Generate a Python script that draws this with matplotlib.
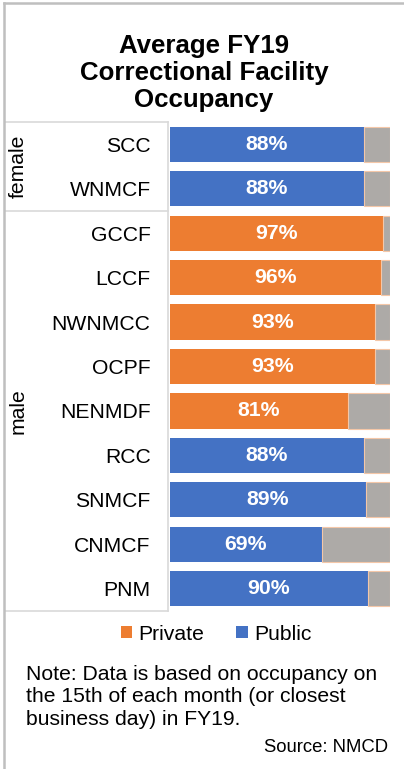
import matplotlib
matplotlib.use("Agg")
import matplotlib.pyplot as plt
from matplotlib import transforms
from matplotlib.lines import Line2D
from matplotlib.patches import Patch

plt.rcParams['font.family'] = ['Liberation Sans', 'DejaVu Sans']

facilities = ["SCC", "WNMCF", "GCCF", "LCCF", "NWNMCC", "OCPF",
              "NENMDF", "RCC", "SNMCF", "CNMCF", "PNM"]
occupancy = [88, 88, 97, 96, 93, 93, 81, 88, 89, 69, 90]
operator = ["Public", "Public", "Private", "Private", "Private", "Private",
            "Private", "Public", "Public", "Public", "Public"]
groups = ["female", "male"]
group_sizes = [2, 9]

colors = {"Private": "#ED7D31", "Public": "#4472C4"}
rest_color = "#ADAAA7"
grid_color = "#D9D9D9"
fs = 15.2

W, H = 404, 769
fig = plt.figure(figsize=(W / 100, H / 100), dpi=100)

def fx(px):
    return px / W

def fy(py):
    return 1 - py / H

ax_left, ax_right, ax_top, ax_bot = 170, 390, 122, 611
ax = fig.add_axes([fx(ax_left), fy(ax_bot), fx(ax_right - ax_left),
                   (ax_bot - ax_top) / H])

ypos = list(range(len(facilities)))
bar_h = 0.79
for y, v, op in zip(ypos, occupancy, operator):
    ax.barh(y, v, height=bar_h, color=colors[op], edgecolor="none")
    ax.barh(y, 100 - v, left=v, height=bar_h, color=rest_color,
            edgecolor="#F4C7A8", linewidth=0.8)
    ax.text(v / 2, y, f"{v}%", ha="center", va="center", color="white",
            fontsize=15.3, fontweight="bold")

ax.set_xlim(0, 100)
ax.set_ylim(len(facilities) - 0.5, -0.5)
for s in ["top", "right", "bottom", "left"]:
    ax.spines[s].set_visible(False)
ax.set_xticks([])
ax.set_yticks(ypos)
ax.set_yticklabels(facilities)
ax.tick_params(axis="y", length=0, pad=14, labelsize=fs)

# multi-level category frame
blend = transforms.blended_transform_factory(fig.transFigure, ax.transData)
bounds = [-0.5]
acc = 0
for n in group_sizes:
    acc += n
    bounds.append(acc - 0.5)
for b in bounds:
    fig.add_artist(Line2D([fx(5), fx(168)], [b, b], transform=blend,
                          color=grid_color, linewidth=1.2))
fig.add_artist(Line2D([fx(168), fx(168)], [bounds[0], bounds[-1]],
                      transform=blend, color=grid_color, linewidth=1.2))
start = -0.5
for g, n in zip(groups, group_sizes):
    mid = start + n / 2
    fig.text(fx(18), mid, g, transform=blend, rotation=90, ha="center",
             va="center", fontsize=fs)
    start += n

# outer border (left and top)
fig.add_artist(Line2D([fx(4), fx(4)], [fy(3), 0], color="#BFBFBF",
                      linewidth=1.8))
fig.add_artist(Line2D([fx(4), 1], [fy(3), fy(3)], color="#BFBFBF",
                      linewidth=1.8))

fig.text(fx(204), fy(73), "Average FY19\nCorrectional Facility\nOccupancy",
         ha="center", va="center", fontsize=18.6, fontweight="bold",
         linespacing=1.15)

handles = [Patch(facecolor=colors["Private"], label="Private"),
           Patch(facecolor=colors["Public"], label="Public")]
fig.legend(handles=handles, loc="center", bbox_to_anchor=(fx(216), fy(634)),
           ncol=2, frameon=False, fontsize=fs, handlelength=0.55,
           handleheight=0.55, handletextpad=0.3, columnspacing=1.5)

fig.text(fx(26), fy(697),
         "Note: Data is based on occupancy on\nthe 15th of each month (or closest\nbusiness day) in FY19.",
         ha="left", va="center", fontsize=fs, linespacing=1.22)
fig.text(fx(388), fy(747), "Source: NMCD", ha="right", va="center",
         fontsize=13.3)

fig.savefig("out.png", dpi=100)
